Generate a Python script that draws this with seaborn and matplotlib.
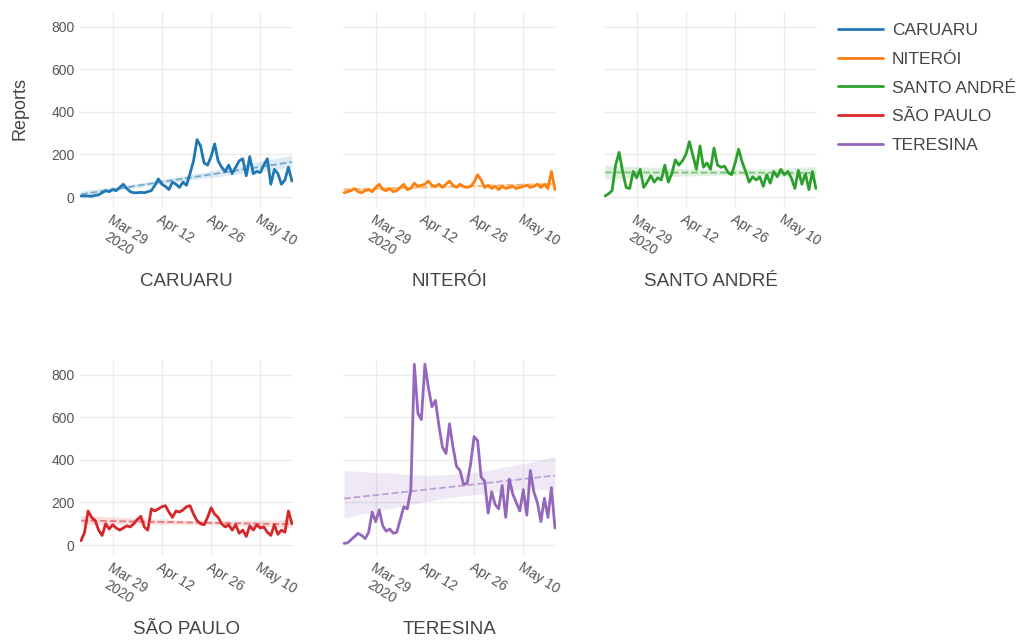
import matplotlib
matplotlib.use("Agg")
import matplotlib.pyplot as plt
import matplotlib.dates as mdates
from matplotlib.lines import Line2D
import seaborn as sns
import pandas as pd

# --- data ---
cities = ['CARUARU', 'NITERÓI', 'SANTO ANDRÉ', 'SÃO PAULO', 'TERESINA']
colors = ['#1f77b4', '#ff7f0e', '#2ca02c', '#d62728', '#9467bd']
start_date = '2020-03-20'
n_days = 61

caruaru = [5, 5, 5, 3, 8, 10, 20, 30, 25, 35, 30, 45, 60, 40, 25, 20, 20, 22, 20, 25,
           30, 55, 85, 60, 50, 35, 70, 60, 45, 70, 55, 110, 170, 270, 240, 160, 150, 190, 250, 170,
           140, 120, 150, 110, 140, 170, 180, 100, 190, 110, 120, 115, 150, 180, 60, 130, 110, 60, 80, 140,
           75]
niteroi = [20, 25, 30, 40, 25, 20, 30, 35, 25, 45, 60, 35, 30, 40, 25, 30, 45, 60, 35, 40,
           65, 50, 55, 60, 75, 55, 50, 60, 45, 60, 75, 55, 45, 60, 50, 45, 50, 70, 105, 80,
           45, 55, 40, 50, 35, 50, 40, 45, 50, 40, 45, 50, 55, 45, 50, 60, 45, 60, 40, 120,
           35]
santo_andre = [5, 15, 30, 150, 210, 120, 45, 40, 120, 90, 130, 45, 70, 100, 70, 90, 80, 150, 70, 110,
               175, 150, 170, 200, 260, 195, 130, 240, 140, 160, 130, 230, 150, 140, 145, 115, 105, 160, 225, 165,
               120, 70, 95, 80, 95, 50, 105, 65, 120, 95, 130, 105, 120, 90, 40, 125, 60, 110, 35, 120,
               40]
sao_paulo = [20, 60, 160, 130, 115, 70, 45, 100, 75, 95, 80, 70, 80, 90, 85, 100, 120, 135, 85, 70,
             170, 160, 170, 180, 185, 155, 130, 160, 155, 165, 180, 185, 145, 115, 100, 95, 130, 175, 145, 130,
             100, 85, 95, 70, 95, 55, 70, 40, 90, 70, 95, 80, 85, 60, 45, 95, 50, 70, 60, 160,
             100]
teresina = [8, 10, 25, 40, 55, 45, 30, 60, 155, 110, 165, 90, 65, 75, 55, 60, 120, 180, 170, 260,
            850, 620, 590, 850, 740, 650, 680, 560, 460, 430, 570, 460, 370, 350, 285, 290, 380, 510, 490, 320,
            300, 150, 250, 190, 170, 280, 130, 310, 240, 200, 160, 260, 140, 350, 250, 200, 110, 220, 130, 270,
            80]
series = [caruaru, niteroi, santo_andre, sao_paulo, teresina]

tick_dates = ['2020-03-29', '2020-04-12', '2020-04-26', '2020-05-10']
tick_labels = ['Mar 29\n2020', 'Apr 12', 'Apr 26', 'May 10']
y_ticks = [0, 200, 400, 600, 800]

dates = pd.date_range(start_date, periods=n_days, freq='D')
day_num = mdates.date2num(dates)

# --- plotting ---
sns.set_theme(style="white")
plt.rcParams['font.family'] = ['Liberation Sans', 'DejaVu Sans']

fig = plt.figure(figsize=(10.25, 6.44), dpi=100)
W, H = 1025, 644

# pixel boxes: (left, top, width, height)
boxes = [(80, 12, 213, 195), (343, 12, 213, 195), (604, 12, 213, 195),
         (80, 360, 213, 195), (343, 360, 213, 195)]

text_col = '#444444'
tick_col = '#555555'

for i, (city, col, vals) in enumerate(zip(cities, colors, series)):
    l, t, w, h = boxes[i]
    ax = fig.add_axes([l / W, (H - t - h) / H, w / W, h / H])
    df = pd.DataFrame({'day': day_num, 'reports': vals})

    sns.regplot(data=df, x='day', y='reports', ax=ax, scatter=False, ci=95, seed=0,
                color=col, truncate=True,
                line_kws=dict(ls='--', lw=1.3, alpha=0.55))
    sns.lineplot(data=df, x='day', y='reports', ax=ax, color=col, lw=2)

    ax.set_xlim(day_num[0] - 0.3, day_num[-1] + 0.3)
    ax.set_ylim(-47, 870)
    ax.set_xticks(mdates.date2num(pd.to_datetime(tick_dates)))
    ax.set_xticklabels(tick_labels, rotation=-32, ha='left', va='top',
                       rotation_mode='anchor', fontsize=10, color=tick_col,
                       multialignment='center')
    ax.set_yticks(y_ticks)
    if i in (0, 3):
        ax.set_yticklabels([str(v) for v in y_ticks], fontsize=10, color=tick_col)
    else:
        ax.set_yticklabels([])
    ax.tick_params(axis='both', length=0, pad=4)
    ax.grid(True, color='#ebebeb', lw=1)
    for s in ax.spines.values():
        s.set_visible(False)

    # panel name sits ~75 px under the plot area
    ax.set_xlabel(city, fontsize=13.5, color=text_col, va='center')
    ax.xaxis.set_label_coords(0.5, -75 / h)
    if i == 0:
        ax.set_ylabel('Reports', fontsize=13, color=text_col, va='center')
        ax.yaxis.set_label_coords(-(80 - 20) / w, (207 - 108) / h)
    else:
        ax.set_ylabel('')

handles = [Line2D([0], [0], color=c, lw=2) for c in colors]
fig.legend(handles, cities, loc='upper left', bbox_to_anchor=(838 / W, 1 - 23 / H),
           frameon=False, fontsize=12.5, handlelength=2.6, handletextpad=0.5,
           labelspacing=0.78, borderpad=0, borderaxespad=0,
           labelcolor=text_col)

plt.savefig('out.png', dpi=100)
